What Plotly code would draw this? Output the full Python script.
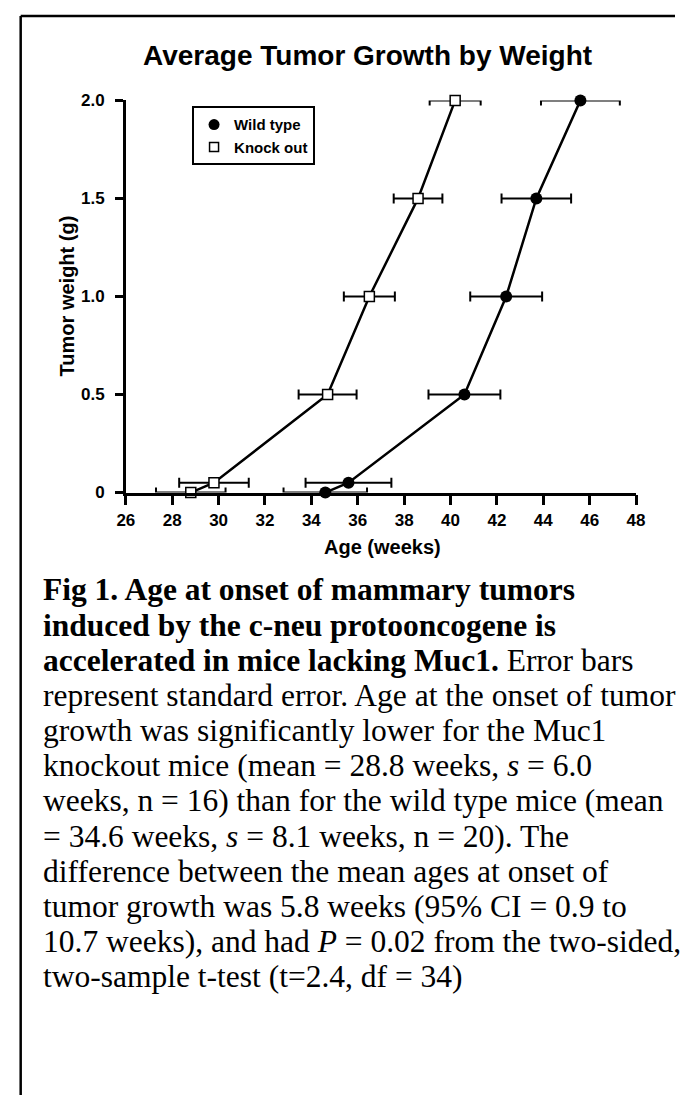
import plotly.graph_objects as go

W, H = 684, 1105

# ---- data ----
weight_g = [0, 0.05, 0.5, 1.0, 1.5, 2.0]
wt_age = [34.6, 35.6, 40.6, 42.4, 43.7, 45.6]
wt_se = [1.8, 1.85, 1.55, 1.55, 1.5, 1.7]
ko_age = [28.8, 29.8, 34.7, 36.5, 38.6, 40.2]
ko_se = [1.5, 1.5, 1.25, 1.1, 1.05, 1.1]

x_ticks = list(range(26, 49, 2))
y_tickvals = [0, 0.5, 1.0, 1.5, 2.0]
y_ticktext = ["0", "0.5", "1.0", "1.5", "2.0"]

title_text = "Average Tumor Growth by Weight"
x_title = "Age (weeks)"
y_title = "Tumor weight (g)"
series_names = ["Wild type", "Knock out"]

caption_lines = [
    "<b>Fig 1. Age at onset of mammary tumors</b>",
    "<b>induced by the c-neu protooncogene is</b>",
    "<b>accelerated in mice lacking Muc1.</b> Error bars",
    "represent standard error. Age at the onset of tumor",
    "growth was significantly lower for the Muc1",
    "knockout mice (mean = 28.8 weeks, <i>s</i> = 6.0",
    "weeks, n = 16) than for the wild type mice (mean",
    "= 34.6 weeks, <i>s</i> = 8.1 weeks, n = 20). The",
    "difference between the mean ages at onset of",
    "tumor growth was 5.8 weeks (95% CI = 0.9 to",
    "10.7 weeks), and had <i>P</i> = 0.02 from the two-sided,",
    "two-sample t-test (t=2.4, df = 34)",
]

SANS = "Liberation Sans, Arial, Helvetica, sans-serif"
SERIF = "Liberation Serif, Times New Roman, serif"

def px(x):
    return x / W

def py(y):
    return 1 - y / H

fig = go.Figure()

err_style = dict(type="data", symmetric=True, color="black", thickness=2, width=5)

# Wild type
fig.add_trace(go.Scatter(
    x=wt_age, y=weight_g, mode="lines+markers", showlegend=False,
    line=dict(color="black", width=2.5),
    marker=dict(symbol="circle", size=12, color="black"),
    error_x=dict(array=wt_se, **err_style), cliponaxis=False,
))
# Knock out
fig.add_trace(go.Scatter(
    x=ko_age, y=weight_g, mode="lines+markers", showlegend=False,
    line=dict(color="black", width=2.5),
    marker=dict(symbol="square", size=10, color="white", line=dict(color="black", width=1.5)),
    error_x=dict(array=ko_se, **err_style), cliponaxis=False,
))
# legend entries
fig.add_trace(go.Scatter(
    x=[None], y=[None], mode="markers", name=series_names[0],
    marker=dict(symbol="circle", size=11, color="black"),
))
fig.add_trace(go.Scatter(
    x=[None], y=[None], mode="markers", name=series_names[1],
    marker=dict(symbol="square", size=9, color="white", line=dict(color="black", width=1.5)),
))

axis_common = dict(
    showgrid=False, zeroline=False, showline=True, linecolor="black", linewidth=2.5,
    ticks="outside", tickcolor="black", tickwidth=2.5,
    tickfont=dict(family=SANS, size=17, color="black", weight="bold"),
)

fig.update_xaxes(
    range=[26, 48], tickvals=x_ticks, ticklen=10,
    domain=[px(120), px(644)], **axis_common,
)
fig.update_yaxes(
    range=[0, 2.0], tickvals=y_tickvals, ticktext=y_ticktext, ticklen=8,
    domain=[py(492), py(93)], ticklabelstandoff=7, **axis_common,
)

annotations = [
    dict(text="<b>%s</b>" % title_text, x=px(368), y=py(47), xref="paper", yref="paper",
         xanchor="center", yanchor="middle", showarrow=False,
         font=dict(family=SANS, size=28, color="black")),
    dict(text="<b>%s</b>" % x_title, x=px(384), y=py(547), xref="paper", yref="paper",
         xanchor="center", yanchor="middle", showarrow=False,
         font=dict(family=SANS, size=20, color="black")),
    dict(text="<b>%s</b>" % y_title, x=px(60), y=py(292), xref="paper", yref="paper",
         xanchor="center", yanchor="middle", showarrow=False, textangle=-90,
         font=dict(family=SANS, size=20, color="black")),
]
for i, line in enumerate(caption_lines):
    annotations.append(dict(
        text=line, x=px(33), y=py(591 + 35.8 * i), xref="paper", yref="paper",
        xanchor="left", yanchor="middle", showarrow=False, align="left",
        font=dict(family=SERIF, size=31.5, color="black"),
    ))

shapes = [
    dict(type="line", xref="paper", yref="paper", x0=px(12), x1=px(12), y0=py(7), y1=0,
         line=dict(color="black", width=2.5)),
    dict(type="line", xref="paper", yref="paper", x0=px(12), x1=1, y0=py(7), y1=py(7),
         line=dict(color="black", width=2.5)),
]

fig.update_layout(
    width=W, height=H, autosize=False,
    margin=dict(l=0, r=0, t=0, b=0),
    paper_bgcolor="white", plot_bgcolor="white",
    annotations=annotations, shapes=shapes,
    showlegend=True,
    legend=dict(
        x=px(188), y=py(99), xanchor="left", yanchor="top",
        bordercolor="black", borderwidth=2, bgcolor="white",
        font=dict(family=SANS, size=15, color="black", weight="bold"),
        itemwidth=30, tracegroupgap=0,
    ),
)

fig.write_html(
    "out.html",
    config={"displayModeBar": False},
    post_script="document.body.style.margin='0';document.body.style.overflow='hidden';",
)
